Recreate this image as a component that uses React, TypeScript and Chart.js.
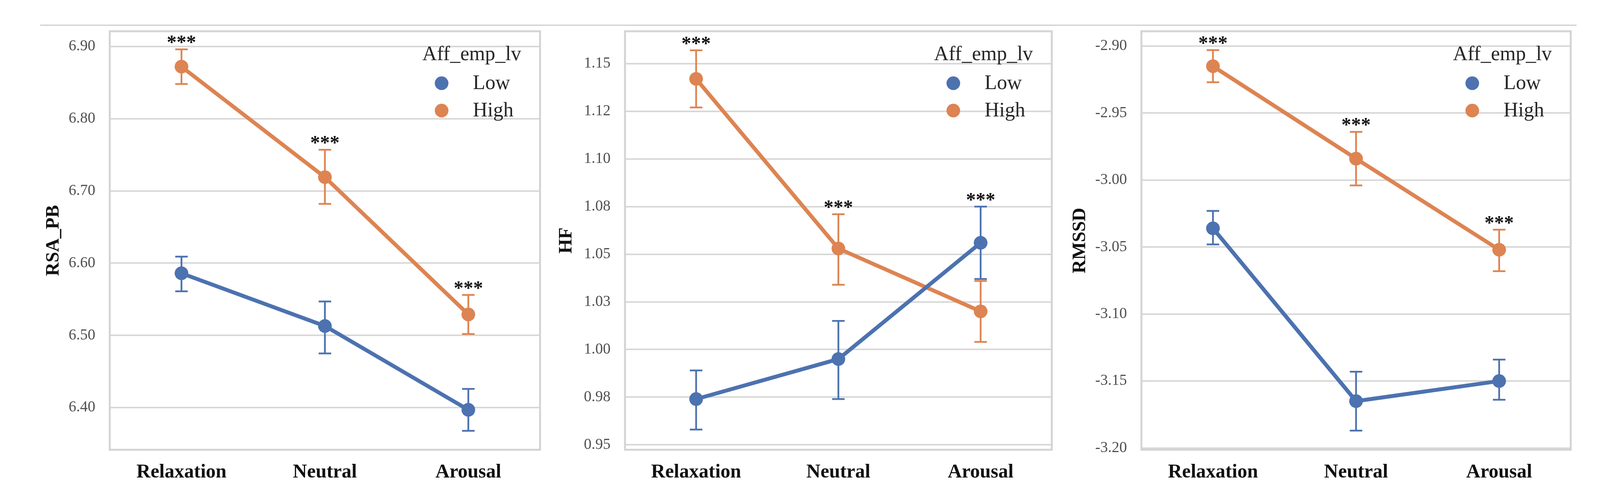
import React, { useEffect, useRef } from 'react';
import { Chart, registerables } from 'chart.js';

Chart.register(...registerables);

const categories = ['Relaxation', 'Neutral', 'Arousal'];
const seriesNames = ['Low', 'High'];
const legendTitle = 'Aff_emp_lv';
const starLabels = ['***', '***', '***'];

// RSA_PB panel
const rsaLow = [6.586, 6.513, 6.397];
const rsaLowLo = [6.561, 6.475, 6.368];
const rsaLowHi = [6.609, 6.547, 6.426];
const rsaHigh = [6.872, 6.719, 6.529];
const rsaHighLo = [6.848, 6.682, 6.502];
const rsaHighHi = [6.896, 6.757, 6.556];
const rsaRange = [6.3417, 6.921];
const rsaTicks = [6.4, 6.5, 6.6, 6.7, 6.8, 6.9];
const rsaTickLabels = ['6.40', '6.50', '6.60', '6.70', '6.80', '6.90'];

// HF panel
const hfLow = [0.974, 0.995, 1.056];
const hfLowLo = [0.958, 0.974, 1.037];
const hfLowHi = [0.989, 1.015, 1.075];
const hfHigh = [1.142, 1.053, 1.02];
const hfHighLo = [1.127, 1.034, 1.004];
const hfHighHi = [1.157, 1.071, 1.036];
const hfRange = [0.9474, 1.167];
const hfTicks = [0.95, 0.975, 1.0, 1.025, 1.05, 1.075, 1.1, 1.125, 1.15];
const hfTickLabels = ['0.95', '0.98', '1.00', '1.03', '1.05', '1.08', '1.10', '1.12', '1.15'];

// RMSSD panel
const rmssdLow = [-3.036, -3.165, -3.15];
const rmssdLowLo = [-3.048, -3.187, -3.164];
const rmssdLowHi = [-3.023, -3.143, -3.134];
const rmssdHigh = [-2.915, -2.984, -3.052];
const rmssdHighLo = [-2.927, -3.004, -3.068];
const rmssdHighHi = [-2.903, -2.964, -3.037];
const rmssdRange = [-3.2013, -2.8889];
const rmssdTicks = [-3.2, -3.15, -3.1, -3.05, -3.0, -2.95, -2.9];
const rmssdTickLabels = ['-3.20', '-3.15', '-3.10', '-3.05', '-3.00', '-2.95', '-2.90'];

const LOW_COLOR = '#4C72B0';
const HIGH_COLOR = '#DD8452';
const GRID = '#d8d8d8';
const FRAME = '#d4d4d4';
const SERIF = '"Liberation Serif", "Times New Roman", serif';
const H = 1277;

type PanelProps = {
  title: string;
  low: number[]; lowLo: number[]; lowHi: number[];
  high: number[]; highLo: number[]; highHi: number[];
  range: number[]; ticks: number[]; tickLabels: string[];
  left: number; width: number; axisWidth: number; padRight: number; titlePad: number;
};

function Panel(p: PanelProps) {
  const ref = useRef<HTMLCanvasElement>(null);
  useEffect(() => {
    const canvas = ref.current;
    if (!canvas) return;
    const errs = [
      { lo: p.lowLo, hi: p.lowHi },
      { lo: p.highLo, hi: p.highHi },
    ];
    const decor = {
      id: 'decor',
      beforeDatasetsDraw(chart: any) {
        const { ctx, chartArea: ca } = chart;
        const xs = chart.scales.x;
        const ys = chart.scales.y;
        ctx.save();
        ctx.strokeStyle = FRAME;
        ctx.lineWidth = 5;
        ctx.strokeRect(ca.left, ca.top, ca.right - ca.left, ca.bottom - ca.top);
        chart.data.datasets.forEach((ds: any, di: number) => {
          ctx.strokeStyle = ds.borderColor;
          ctx.lineWidth = 4.5;
          categories.forEach((_c, i) => {
            const px = xs.getPixelForValue(i);
            const yl = ys.getPixelForValue(errs[di].lo[i]);
            const yh = ys.getPixelForValue(errs[di].hi[i]);
            ctx.beginPath();
            ctx.moveTo(px, yl);
            ctx.lineTo(px, yh);
            ctx.moveTo(px - 16, yl);
            ctx.lineTo(px + 16, yl);
            ctx.moveTo(px - 16, yh);
            ctx.lineTo(px + 16, yh);
            ctx.stroke();
          });
        });
        ctx.restore();
      },
      afterDraw(chart: any) {
        const { ctx, chartArea: ca } = chart;
        const xs = chart.scales.x;
        const ys = chart.scales.y;
        ctx.save();
        // significance stars
        ctx.font = `bold 50px ${SERIF}`;
        ctx.fillStyle = '#111';
        ctx.textAlign = 'center';
        ctx.textBaseline = 'alphabetic';
        categories.forEach((_c, i) => {
          const top = Math.min(ys.getPixelForValue(p.lowHi[i]), ys.getPixelForValue(p.highHi[i]));
          ctx.fillText(starLabels[i], xs.getPixelForValue(i), top - 2);
        });
        // legend
        ctx.fillStyle = '#262626';
        ctx.font = `52px ${SERIF}`;
        ctx.textAlign = 'center';
        ctx.textBaseline = 'middle';
        ctx.fillText(legendTitle, ca.right - 175, ca.top + 60);
        ctx.textAlign = 'left';
        chart.data.datasets.forEach((ds: any, di: number) => {
          const cy = ca.top + 133 + di * 70;
          ctx.beginPath();
          ctx.fillStyle = ds.backgroundColor;
          ctx.arc(ca.right - 252, cy, 17.5, 0, Math.PI * 2);
          ctx.fill();
          ctx.fillStyle = '#262626';
          ctx.fillText(ds.label, ca.right - 172, cy + 1);
        });
        ctx.restore();
      },
    };

    const chart = new Chart(canvas, {
      type: 'line',
      data: {
        labels: categories,
        datasets: [
          {
            label: seriesNames[0],
            data: p.low,
            borderColor: LOW_COLOR,
            backgroundColor: LOW_COLOR,
            pointBackgroundColor: LOW_COLOR,
            pointBorderColor: LOW_COLOR,
            borderWidth: 10,
            pointRadius: 17.5,
            pointBorderWidth: 0,
            tension: 0,
          },
          {
            label: seriesNames[1],
            data: p.high,
            borderColor: HIGH_COLOR,
            backgroundColor: HIGH_COLOR,
            pointBackgroundColor: HIGH_COLOR,
            pointBorderColor: HIGH_COLOR,
            borderWidth: 10,
            pointRadius: 17.5,
            pointBorderWidth: 0,
            tension: 0,
          },
        ],
      },
      options: {
        animation: false,
        responsive: false,
        devicePixelRatio: 1,
        layout: { padding: { left: 0, top: 80, right: p.padRight, bottom: 0 } },
        plugins: { legend: { display: false }, tooltip: { enabled: false } },
        scales: {
          x: {
            type: 'category',
            offset: true,
            grid: { display: false, drawTicks: false },
            border: { display: false },
            ticks: {
              padding: 28,
              color: '#111',
              font: { family: SERIF, size: 50, weight: 'bold' },
              maxRotation: 0,
            },
            afterFit: (s: any) => { s.height = 126; },
          },
          y: {
            type: 'linear',
            min: p.range[0],
            max: p.range[1],
            grid: { color: GRID, lineWidth: 4, drawTicks: false },
            border: { display: false },
            afterBuildTicks: (s: any) => { s.ticks = p.ticks.map((v) => ({ value: v })); },
            ticks: {
              padding: 37,
              color: '#505050',
              font: { family: SERIF, size: 39 },
              callback: (_v: any, i: number) => p.tickLabels[i],
            },
            title: {
              display: true,
              text: p.title,
              color: '#111',
              font: { family: SERIF, size: 48, weight: 'bold' },
              padding: { top: p.titlePad, bottom: 0 },
            },
            afterFit: (s: any) => { s.width = p.axisWidth; },
          },
        },
      },
      plugins: [decor],
    } as any);
    return () => chart.destroy();
  }, []);
  return (
    <canvas
      ref={ref}
      width={p.width}
      height={H}
      style={{ position: 'absolute', left: p.left, top: 0, width: p.width, height: H }}
    />
  );
}

export default function App() {
  return (
    <div style={{ position: 'fixed', left: 0, top: 0, width: 4108, height: H, background: '#fff', overflow: 'hidden' }}>
      <div style={{ position: 'absolute', left: 103, top: 63, width: 3933, height: 0, borderTop: '3px solid #cfcfcf' }} />
      <Panel
        title="RSA_PB"
        low={rsaLow} lowLo={rsaLowLo} lowHi={rsaLowHi}
        high={rsaHigh} highLo={rsaHighLo} highHi={rsaHighHi}
        range={rsaRange} ticks={rsaTicks} tickLabels={rsaTickLabels}
        left={60} width={1340} axisWidth={221} padRight={15} titlePad={49}
      />
      <Panel
        title="HF"
        low={hfLow} lowLo={hfLowLo} lowHi={hfLowHi}
        high={hfHigh} highLo={hfHighLo} highHi={hfHighHi}
        range={hfRange} ticks={hfTicks} tickLabels={hfTickLabels}
        left={1400} width={1310} axisWidth={200} padRight={9} titlePad={22}
      />
      <Panel
        title="RMSSD"
        low={rmssdLow} lowLo={rmssdLowLo} lowHi={rmssdLowHi}
        high={rmssdHigh} highLo={rmssdHighLo} highHi={rmssdHighHi}
        range={rmssdRange} ticks={rmssdTicks} tickLabels={rmssdTickLabels}
        left={2720} width={1388} axisWidth={202} padRight={87} titlePad={17}
      />
    </div>
  );
}
